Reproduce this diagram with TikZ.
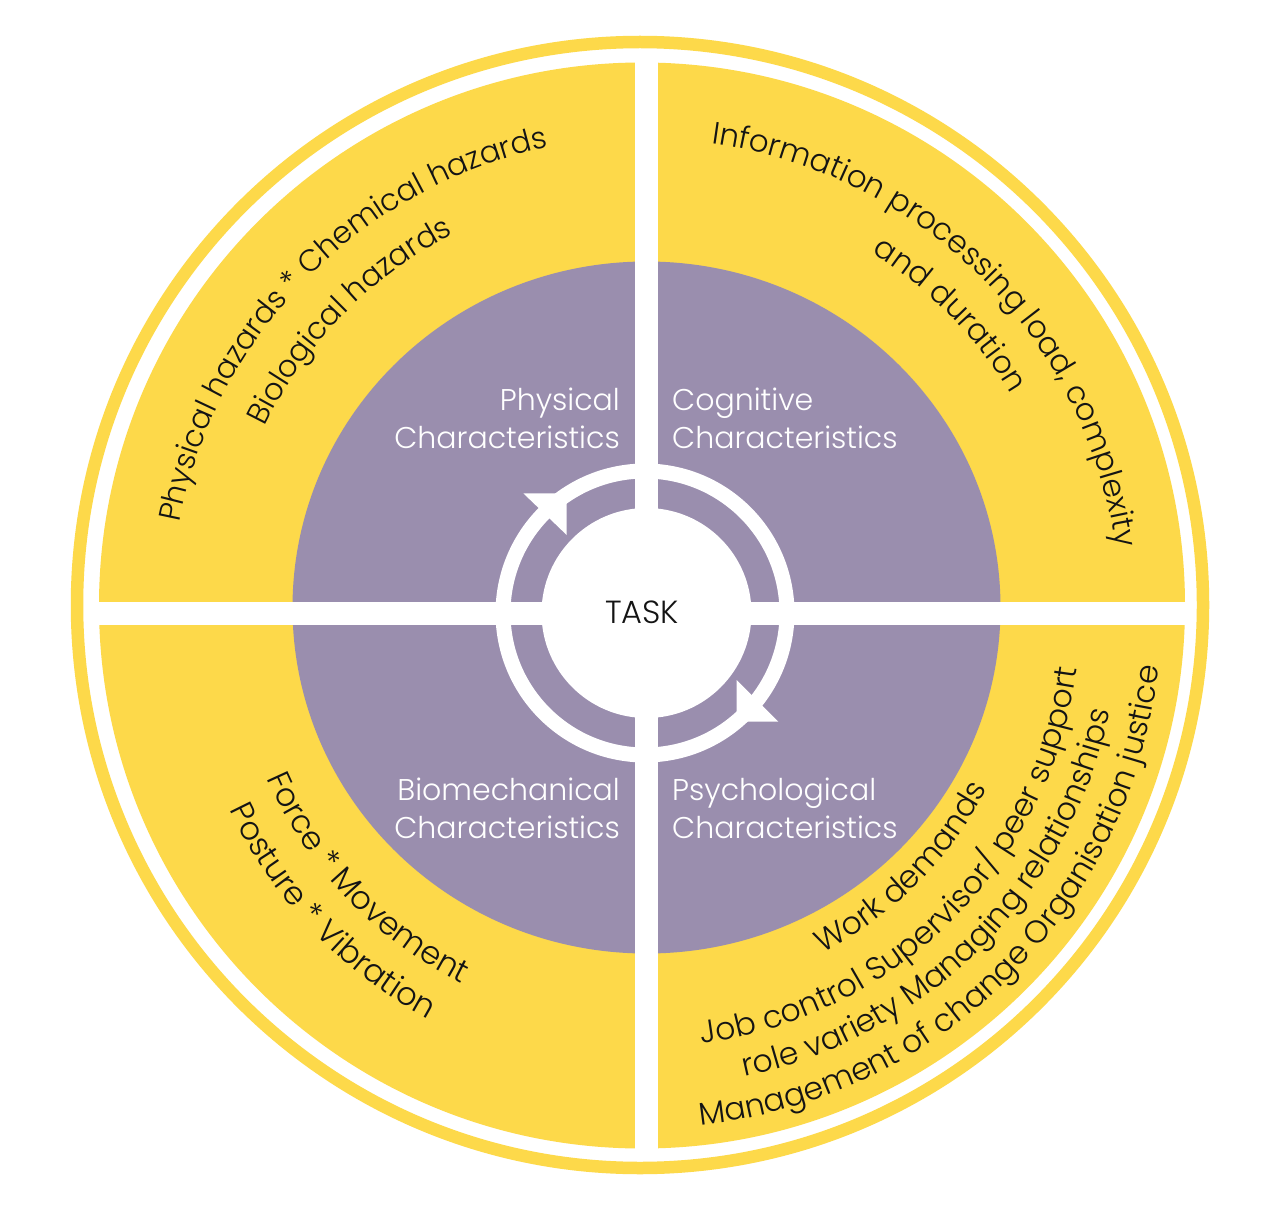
\documentclass[tikz,border=0pt]{standalone}
\usepackage{fontspec}
\setmainfont{Poppins Light}
\usetikzlibrary{decorations.text}
\definecolor{ylw}{RGB}{253,217,74}
\definecolor{prp}{RGB}{154,142,174}
\definecolor{txt}{RGB}{20,20,20}
\newcommand\arctext[5]{%
  \path[decorate, decoration={text along path, text align=center, text color=txt,
    text={|\fontsize{#5}{#5}\selectfont|#4}}] (C) ++(#2:#1) arc (#2:#3:#1);}
\begin{document}
\begin{tikzpicture}[x=1pt,y=1pt,
  lab/.style={text=white, font=\fontsize{30}{30}\selectfont, inner sep=0pt},
  tri/.style={fill=white}]
\useasboundingbox (0,0) rectangle (1280,-1209);
\fill[white] (0,0) rectangle (1280,-1209);
\coordinate (C) at (646.5,-613);
% yellow disk and purple disk
\fill[ylw] (642,-605.5) circle (543);
\fill[prp] (646.5,-607.5) ellipse (354 and 346);
% white cross
\fill[white] (635,-40) rectangle (658,-1170);
\fill[white] (80,-601.5) rectangle (1200,-624.5);
% outer ring
\draw[ylw, line width=12.5] (640,-605) circle (563);
% inner ring and centre
\draw[white, line width=15] (645,-613) circle (142);
\fill[white] (C) circle (105);
% arrowheads
\fill[tri] (523.3,-493.3) -- (566.7,-535) -- (566.7,-493.3) -- cycle;
\fill[tri] (736.7,-680) -- (778.3,-721.7) -- (736.7,-721.7) -- cycle;
% centre label
\node[text=txt, font=\fontsize{32}{32}\selectfont, inner sep=0pt] (task) at (642,-612) {TASK};
% characteristic labels
\node[lab, anchor=base east] (phys1) at (620,-410.5) {Physical};
\node[lab, anchor=base east] (phys2) at (620,-448.5) {Characteristics};
\node[lab, anchor=base west] (cog1) at (672,-410.5) {Cognitive};
\node[lab, anchor=base west] (cog2) at (672,-448.5) {Characteristics};
\node[lab, anchor=base east] (bio1) at (620,-800.5) {Biomechanical};
\node[lab, anchor=base east] (bio2) at (620,-838.5) {Characteristics};
\node[lab, anchor=base west] (psy1) at (672,-800.5) {Psychological};
\node[lab, anchor=base west] (psy2) at (672,-838.5) {Characteristics};
% curved texts
\arctext{476}{185.5}{85.5}{Physical hazards * Chemical hazards}{30.5}
\arctext{425}{185.5}{85.5}{Biological hazards}{30.5}
\arctext{474}{95}{-5}{Information processing load, complexity}{31}
\arctext{425}{94.5}{-5.5}{and duration}{31}
\arctext{414}{173.5}{273.5}{Force * Movement}{32}
\arctext{461}{173.5}{273.5}{Posture * Vibration}{32}
\arctext{383}{265}{365}{Work demands}{31.5}
\arctext{434}{265}{365}{Job control Supervisor/ peer support}{31.5}
\arctext{474}{265}{365}{role variety Managing relationships}{31.5}
\arctext{515}{265}{365}{Management of change Organisation justice}{31.5}
\end{tikzpicture}
\end{document}
